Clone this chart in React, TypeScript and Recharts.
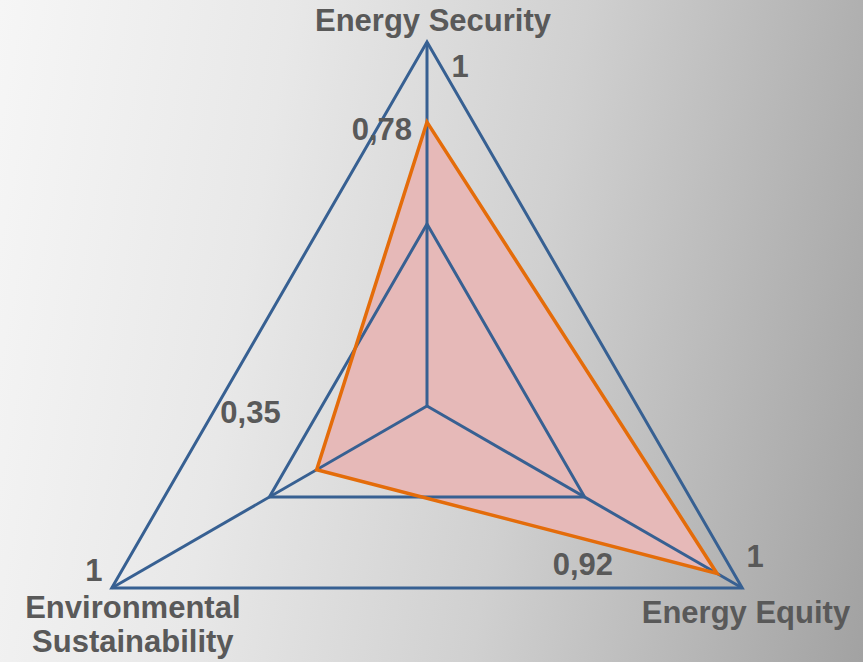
import React from 'react';
import { RadarChart, Radar, PolarGrid, PolarAngleAxis, PolarRadiusAxis } from 'recharts';

// axes of the index, clockwise from the top
const axes = ['Energy Security', 'Energy Equity', 'Environmental Sustainability'];
const scores = [0.78, 0.92, 0.35];
const maxScores = [1, 1, 1];
const radiusTicks = [0, 0.5, 1];

const data = axes.map((axis, i) => ({ axis, score: scores[i], max: maxScores[i] }));

const BLUE = '#376092';
const ORANGE = '#E46C0A';
const PINK = '#E6B9B8';
const TEXT = '#595959';
const FONT = '"Liberation Sans", Arial, sans-serif';
const FS = 31;

const W = 863;
const H = 662;
const CX = 427;
const CY = 406;
const R = 364;

const fmt = (v: number) => String(v).replace('.', ',');

// label nudges, per axis index
const scoreOffsets = [
  { dx: -15, dy: 18 },
  { dx: -104, dy: 2 },
  { dx: -36, dy: -47 },
];
const maxOffsets = [
  { dx: 33, dy: 35 },
  { dx: 13, dy: -21 },
  { dx: -18, dy: -7 },
];

const ScoreLabel = (props: any) => {
  const { x, y, value, index } = props;
  const o = scoreOffsets[index] || { dx: 0, dy: 0 };
  return (
    <text x={x + o.dx} y={y + o.dy} textAnchor="end" fill={TEXT} fontSize={FS} fontWeight="bold" fontFamily={FONT}>
      {fmt(value)}
    </text>
  );
};

const MaxLabel = (props: any) => {
  const { x, y, value, index } = props;
  const o = maxOffsets[index] || { dx: 0, dy: 0 };
  return (
    <text x={x + o.dx} y={y + o.dy} textAnchor="middle" fill={TEXT} fontSize={FS} fontWeight="bold" fontFamily={FONT}>
      {fmt(value)}
    </text>
  );
};

const AxisTick = (props: any) => {
  const { x, y, payload } = props;
  const common = { fill: TEXT, fontSize: FS, fontWeight: 'bold' as const, fontFamily: FONT };
  if (payload.value === 'Energy Security') {
    return <text x={x + 6} y={y - 3} textAnchor="middle" {...common}>{payload.value}</text>;
  }
  if (payload.value === 'Energy Equity') {
    return <text x={x + 101} y={y + 31} textAnchor="end" {...common}>{payload.value}</text>;
  }
  const words = String(payload.value).split(' ');
  return (
    <text x={x + 28} y={y + 26} textAnchor="middle" {...common}>
      <tspan x={x + 28}>{words[0]}</tspan>
      <tspan x={x + 28} dy={34}>{words.slice(1).join(' ')}</tspan>
    </text>
  );
};

const chartProps = {
  width: W,
  height: H,
  data,
  cx: CX,
  cy: CY,
  outerRadius: R,
  margin: { top: 0, right: 0, bottom: 0, left: 0 },
};

const App: React.FC = () => {
  return (
    <div
      style={{
        position: 'absolute',
        left: 0,
        top: 0,
        width: W,
        height: H,
        background: 'linear-gradient(100deg, #f6f6f6 0%, #e8e8e8 30%, #d0d0d0 60%, #a2a2a2 100%)',
      }}
    >
      {/* pink area underneath, grid and outline drawn on top */}
      <div style={{ position: 'absolute', left: 0, top: 0 }}>
        <RadarChart {...chartProps}>
          <PolarRadiusAxis domain={[0, 1]} ticks={radiusTicks as any} axisLine={false} tick={false} tickLine={false} />
          <PolarAngleAxis dataKey="axis" tick={false} axisLine={false} tickLine={false} />
          <Radar dataKey="score" stroke="none" fill={PINK} fillOpacity={1} isAnimationActive={false} />
        </RadarChart>
      </div>
      <div style={{ position: 'absolute', left: 0, top: 0 }}>
        <RadarChart {...chartProps}>
          <PolarGrid gridType="polygon" stroke={BLUE} strokeWidth={3} strokeOpacity={1} />
          <PolarRadiusAxis domain={[0, 1]} ticks={radiusTicks as any} axisLine={false} tick={false} tickLine={false} />
          <PolarAngleAxis dataKey="axis" tick={<AxisTick />} axisLine={false} tickLine={false} />
          <Radar dataKey="max" stroke="none" fill="none" isAnimationActive={false} label={<MaxLabel />} />
          <Radar
            dataKey="score"
            stroke={ORANGE}
            strokeWidth={3.5}
            fill="none"
            isAnimationActive={false}
            label={<ScoreLabel />}
          />
        </RadarChart>
      </div>
    </div>
  );
};

export default App;
